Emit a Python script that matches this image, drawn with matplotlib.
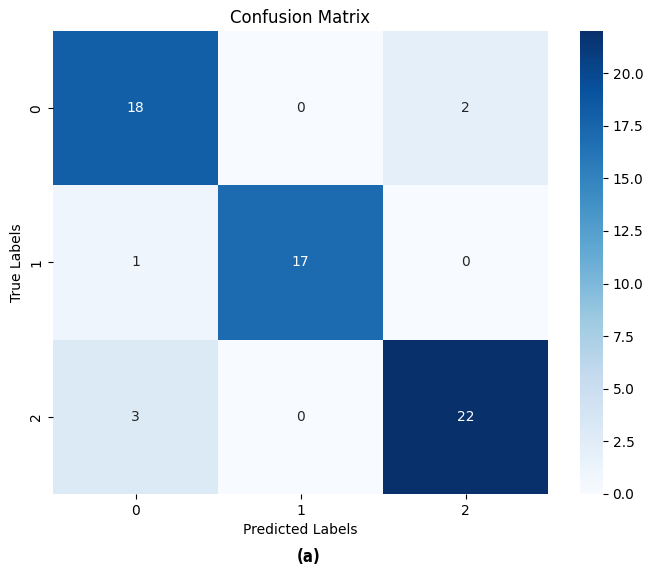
import numpy as np
import matplotlib
matplotlib.use("Agg")
import matplotlib.pyplot as plt
import seaborn as sns

classes = ["0", "1", "2"]
cm = np.array([
    [18, 0, 2],
    [1, 17, 0],
    [3, 0, 22],
])

fig = plt.figure(figsize=(6.53, 5.75), dpi=100)
ax = fig.add_axes([0.0812, 0.1409, 0.758, 0.8052])
cax = fig.add_axes([0.888, 0.1409, 0.0352, 0.8052])

sns.heatmap(cm, annot=True, fmt="d", cmap="Blues",
            xticklabels=classes, yticklabels=classes,
            ax=ax, cbar_ax=cax)
ax.set_title("Confusion Matrix", fontsize=12)
ax.set_xlabel("Predicted Labels")
ax.set_ylabel("True Labels")

# panel label sits under the heatmap, a bit left of the figure centre
fig.text(0.473, 0.031, "(a)", ha="center", va="center",
         fontsize=12, fontweight="bold", fontstretch="condensed")

fig.savefig("out.png", dpi=100)
